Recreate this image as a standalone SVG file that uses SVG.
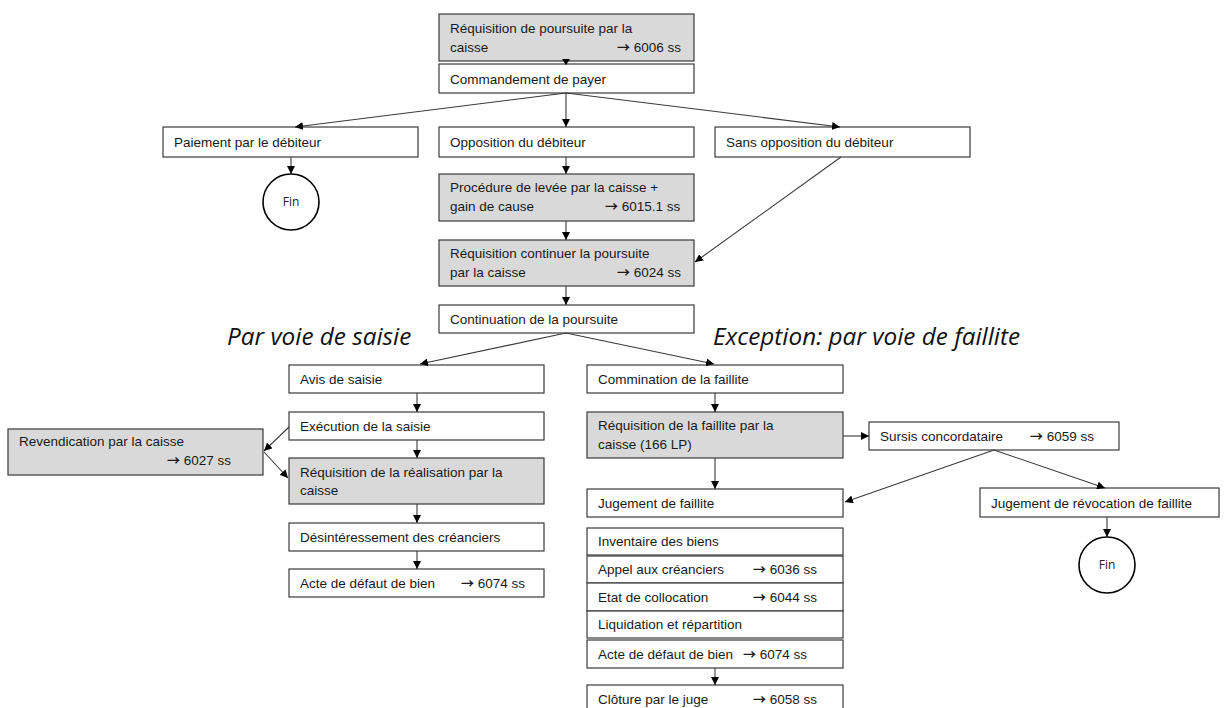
<svg xmlns="http://www.w3.org/2000/svg" width="1226" height="708" viewBox="0 0 1226 708">
<defs>
<marker id="ah" markerUnits="userSpaceOnUse" markerWidth="9" markerHeight="8" refX="8" refY="4" orient="auto">
<path d="M0,0 L8,4 L0,8 z" fill="#000"/>
</marker>
<style>
.b{fill:#fff;stroke:#3a3a3a;stroke-width:1.2}
.g{fill:#d9d9d9;stroke:#3a3a3a;stroke-width:1.2}
.t{font-family:"Liberation Sans",Arial,sans-serif;font-size:13.5px;fill:#1a1a1a}
.a{font-family:"Noto Sans CJK SC","DejaVu Sans",sans-serif;font-weight:bold;font-size:13px}
.h{font-family:"Open Sans","Noto Sans",sans-serif;font-style:italic;font-size:24.3px;fill:#111}
.c{fill:#fff;stroke:#000;stroke-width:1.6}
.f{font-family:"Open Sans","Noto Sans",sans-serif;font-size:12px;fill:#222;text-anchor:middle}
.e{fill:none;stroke:#3a3a3a;stroke-width:1.1;marker-end:url(#ah)}
</style>
</defs>
<rect width="1226" height="708" fill="#fff"/>

<g id="n1"><rect class="g" x="439" y="14" width="255" height="47"/>
<text class="t" x="450" y="33">Réquisition de poursuite par la</text>
<text class="t" x="450" y="52">caisse</text><text class="t" x="617" y="52"><tspan class="a">→</tspan> 6006 ss</text></g>

<g id="n2"><rect class="b" x="439" y="64" width="255" height="29"/>
<text class="t" x="450" y="84">Commandement de payer</text></g>

<g id="n3"><rect class="b" x="163" y="127" width="255" height="30"/>
<text class="t" x="174" y="147">Paiement par le débiteur</text></g>

<g id="n4"><rect class="b" x="439" y="127" width="255" height="30"/>
<text class="t" x="450" y="147">Opposition du débiteur</text></g>

<g id="n5"><rect class="b" x="715" y="127" width="255" height="30"/>
<text class="t" x="726" y="147">Sans opposition du débiteur</text></g>

<g id="n6"><circle class="c" cx="291" cy="202" r="28"/>
<text class="f" x="291" y="206">Fin</text></g>

<g id="n7"><rect class="g" x="439" y="174" width="255" height="47"/>
<text class="t" x="450" y="192">Procédure de levée par la caisse +</text>
<text class="t" x="450" y="211">gain de cause</text><text class="t" x="605" y="211"><tspan class="a">→</tspan> 6015.1 ss</text></g>

<g id="n8"><rect class="g" x="439" y="240" width="255" height="46"/>
<text class="t" x="450" y="258">Réquisition continuer la poursuite</text>
<text class="t" x="450" y="277">par la caisse</text><text class="t" x="617" y="277"><tspan class="a">→</tspan> 6024 ss</text></g>

<g id="n9"><rect class="b" x="439" y="305" width="255" height="28"/>
<text class="t" x="450" y="324">Continuation de la poursuite</text></g>

<text class="h" x="227" y="345">Par voie de saisie</text>
<text class="h" x="713" y="345">Exception: par voie de faillite</text>

<g id="n10"><rect class="b" x="289" y="365" width="255" height="28"/>
<text class="t" x="300" y="384">Avis de saisie</text></g>

<g id="n11"><rect class="b" x="289" y="412" width="255" height="28"/>
<text class="t" x="300" y="431">Exécution de la saisie</text></g>

<g id="n12"><rect class="g" x="8" y="429" width="255" height="46"/>
<text class="t" x="19" y="446">Revendication par la caisse</text>
<text class="t" x="167" y="465"><tspan class="a">→</tspan> 6027 ss</text></g>

<g id="n13"><rect class="g" x="289" y="458" width="255" height="46"/>
<text class="t" x="300" y="477">Réquisition de la réalisation par la</text>
<text class="t" x="300" y="495">caisse</text></g>

<g id="n14"><rect class="b" x="289" y="523" width="255" height="28"/>
<text class="t" x="300" y="542">Désintéressement des créanciers</text></g>

<g id="n15"><rect class="b" x="289" y="569" width="255" height="28"/>
<text class="t" x="300" y="588">Acte de défaut de bien</text><text class="t" x="461" y="588"><tspan class="a">→</tspan> 6074 ss</text></g>

<g id="n16"><rect class="b" x="587" y="365" width="256" height="28"/>
<text class="t" x="598" y="384">Commination de la faillite</text></g>

<g id="n17"><rect class="g" x="587" y="412" width="256" height="46"/>
<text class="t" x="598" y="430">Réquisition de la faillite par la</text>
<text class="t" x="598" y="449">caisse (166 LP)</text></g>

<g id="n18"><rect class="b" x="869" y="422" width="250" height="28"/>
<text class="t" x="880" y="441">Sursis concordataire</text><text class="t" x="1030" y="441"><tspan class="a">→</tspan> 6059 ss</text></g>

<g id="n19"><rect class="b" x="587" y="489" width="256" height="28"/>
<text class="t" x="598" y="508">Jugement de faillite</text></g>

<g id="n20"><rect class="b" x="980" y="488" width="239" height="29"/>
<text class="t" x="991" y="508">Jugement de révocation de faillite</text></g>

<g id="n21"><circle class="c" cx="1107" cy="565" r="28"/>
<text class="f" x="1107" y="569">Fin</text></g>

<g id="n22"><rect class="b" x="587" y="528" width="256" height="27"/>
<text class="t" x="598" y="546">Inventaire des biens</text></g>

<g id="n23"><rect class="b" x="587" y="556" width="256" height="27"/>
<text class="t" x="598" y="574">Appel aux créanciers</text><text class="t" x="753" y="574"><tspan class="a">→</tspan> 6036 ss</text></g>

<g id="n24"><rect class="b" x="587" y="583" width="256" height="28"/>
<text class="t" x="598" y="602">Etat de collocation</text><text class="t" x="753" y="602"><tspan class="a">→</tspan> 6044 ss</text></g>

<g id="n25"><rect class="b" x="587" y="611" width="256" height="27"/>
<text class="t" x="598" y="629">Liquidation et répartition</text></g>

<g id="n26"><rect class="b" x="587" y="640" width="256" height="28"/>
<text class="t" x="598" y="659">Acte de défaut de bien</text><text class="t" x="743" y="659"><tspan class="a">→</tspan> 6074 ss</text></g>

<g id="n27"><rect class="b" x="587" y="685" width="256" height="30"/>
<text class="t" x="598" y="704">Clôture par le juge</text><text class="t" x="753" y="704"><tspan class="a">→</tspan> 6058 ss</text></g>

<g id="connectors">
<polygon points="562,59 570,59 566,65" fill="#000"/>
<line class="e" x1="566" y1="93" x2="295" y2="127"/>
<line class="e" x1="566" y1="93" x2="566" y2="127"/>
<line class="e" x1="566" y1="93" x2="840" y2="127"/>
<line class="e" x1="291" y1="157" x2="291" y2="174"/>
<line class="e" x1="566" y1="157" x2="566" y2="174"/>
<line class="e" x1="566" y1="221" x2="566" y2="240"/>
<line class="e" x1="841" y1="157" x2="695" y2="262"/>
<line class="e" x1="566" y1="286" x2="566" y2="305"/>
<line class="e" x1="566" y1="333" x2="420" y2="364"/>
<line class="e" x1="566" y1="333" x2="714" y2="364"/>
<line class="e" x1="417" y1="393" x2="417" y2="412"/>
<line class="e" x1="289" y1="427" x2="264" y2="451"/>
<line class="e" x1="264" y1="452" x2="288" y2="478"/>
<line class="e" x1="417" y1="440" x2="417" y2="458"/>
<line class="e" x1="417" y1="504" x2="417" y2="523"/>
<line class="e" x1="417" y1="551" x2="417" y2="569"/>
<line class="e" x1="715" y1="393" x2="715" y2="412"/>
<line class="e" x1="843" y1="436" x2="869" y2="436"/>
<line class="e" x1="715" y1="458" x2="715" y2="489"/>
<line class="e" x1="994" y1="450" x2="845" y2="502"/>
<line class="e" x1="994" y1="450" x2="1105" y2="488"/>
<line class="e" x1="1107" y1="517" x2="1107" y2="537"/>
<line class="e" x1="715" y1="668" x2="715" y2="685"/>
</g>
</svg>
